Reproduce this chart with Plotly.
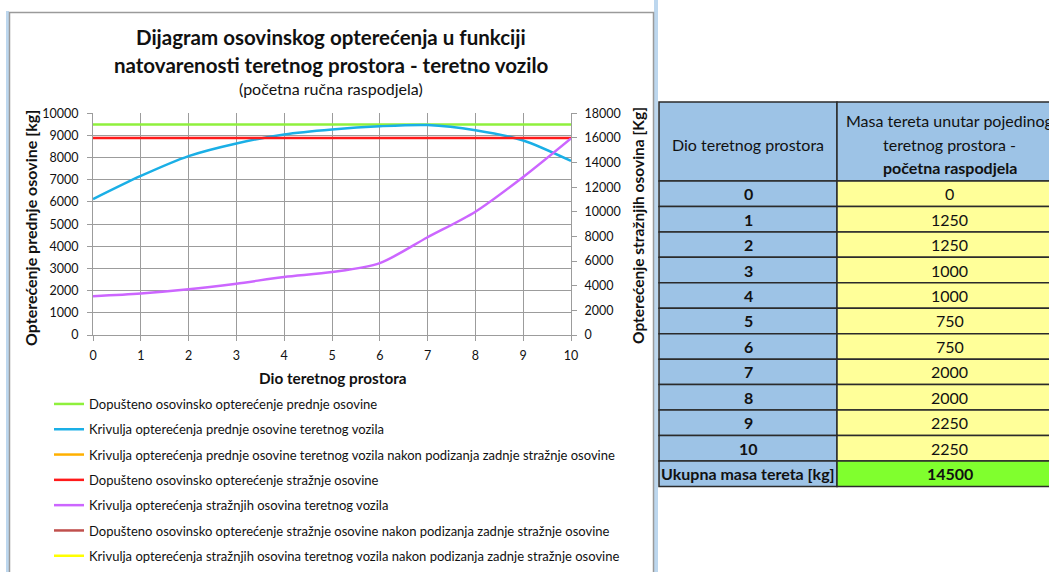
import plotly.graph_objects as go

W, H = 1049, 572

# ---------------- data ----------------
dio = [0, 1, 2, 3, 4, 5, 6, 7, 8, 9, 10]
front_allowed = [9500] * 11
front_load = [6130, 7175, 8070, 8640, 9045, 9270, 9415, 9470, 9240, 8775, 7850]
front_load_lifted = [None] * 11
rear_allowed = [16000] * 11
rear_load = [3150, 3370, 3710, 4170, 4710, 5110, 5840, 7935, 10010, 12830, 15960]
rear_allowed_lifted = [None] * 11
rear_load_lifted = [None] * 11

mass = [0, 1250, 1250, 1000, 1000, 750, 750, 2000, 2000, 2250, 2250]
total_mass = 14500

series_names = [
    "Dopušteno osovinsko opterećenje prednje osovine",
    "Krivulja opterećenja prednje osovine teretnog vozila",
    "Krivulja opterećenja prednje osovine teretnog vozila nakon podizanja zadnje stražnje osovine",
    "Dopušteno osovinsko opterećenje stražnje osovine",
    "Krivulja opterećenja stražnjih osovina teretnog vozila",
    "Dopušteno osovinsko opterećenje stražnje osovine nakon podizanja zadnje stražnje osovine",
    "Krivulja opterećenja stražnjih osovina teretnog vozila nakon podizanja zadnje stražnje osovine",
]
series_colors = ["#8FF03C", "#1AAFE6", "#FFB000", "#FF1A1A", "#CC66FF", "#C0504D", "#FFFF00"]

FONT = "Lato"


def px(x):
    return x / W


def py(y):
    return 1 - y / H


fig = go.Figure()

data_map = [
    (front_allowed, "y"),
    (front_load, "y"),
    (front_load_lifted, "y"),
    (rear_allowed, "y2"),
    (rear_load, "y2"),
    (rear_allowed_lifted, "y2"),
    (rear_load_lifted, "y2"),
]
for i, (ys, ax) in enumerate(data_map):
    fig.add_trace(go.Scatter(
        x=dio, y=ys, mode="lines", name=series_names[i], yaxis=ax,
        line=dict(color=series_colors[i], width=2.5, shape="spline", smoothing=0.8),
        legendgroup="g%d" % i, showlegend=True,
    ))

x0, x1 = 93, 571
y0, y1 = 335, 113.3

grid = "#9C9C9C"
tickfont = dict(size=12.5, family=FONT, color="#111")
fig.update_layout(
    width=W, height=H,
    margin=dict(l=0, r=0, t=0, b=0, autoexpand=False),
    paper_bgcolor="white", plot_bgcolor="white",
    font=dict(family=FONT, color="#111111"),
    xaxis=dict(domain=[px(x0), px(x1)], range=[0, 10], tickmode="linear", dtick=1,
               showgrid=True, gridcolor=grid, gridwidth=1, showline=True, linecolor=grid,
               ticks="outside", ticklen=5, tickcolor=grid, zeroline=False,
               ticklabelstandoff=4, tickfont=tickfont),
    yaxis=dict(domain=[py(y0), py(y1)], range=[0, 10000], tickmode="linear", dtick=1000,
               tickformat="d",
               showgrid=True, gridcolor=grid, gridwidth=1, showline=True, linecolor=grid,
               ticks="outside", ticklen=5, tickcolor=grid, zeroline=False,
               ticklabelstandoff=6, tickfont=tickfont),
    yaxis2=dict(overlaying="y", side="right", range=[0, 18000], tickmode="linear", dtick=2000,
                tickformat="d",
                showgrid=False, showline=True, linecolor=grid, ticks="outside", ticklen=5,
                tickcolor=grid, zeroline=False, ticklabelstandoff=5, tickfont=tickfont),
    legend=dict(x=px(49), y=py(389), xanchor="left", yanchor="top", traceorder="grouped",
                tracegroupgap=5.4, font=dict(size=13, family=FONT, color="#111"),
                bgcolor="rgba(0,0,0,0)", itemwidth=30),
    showlegend=True,
)

shapes = []
# chart frame and light strips
shapes.append(dict(type="rect", xref="paper", yref="paper", x0=px(6), x1=px(9), y0=py(H + 5), y1=py(11),
                   fillcolor="#BDD7EE", line=dict(width=0), layer="below"))
shapes.append(dict(type="rect", xref="paper", yref="paper", x0=px(654), x1=px(658), y0=py(H + 5), y1=py(-5),
                   fillcolor="#BDD7EE", line=dict(width=0), layer="below"))
shapes.append(dict(type="rect", xref="paper", yref="paper", x0=px(9.5), x1=px(653.5), y0=py(H + 5), y1=py(12.5),
                   fillcolor="rgba(0,0,0,0)", line=dict(color="#9A9A9A", width=1.5), layer="below"))

# ---------------- table ----------------
tx0, tx1, tx2 = 659, 837, 1062
hy0, hy1 = 102, 181
row_h = 25.45
blue, yellow, green = "#9DC3E6", "#FFFF99", "#80FF2E"
bord = dict(color="#2B2B2B", width=1.5)
cfont = dict(size=16, family=FONT, color="#111")

shapes.append(dict(type="rect", xref="paper", yref="paper", x0=px(tx0), x1=px(tx1), y0=py(hy1), y1=py(hy0),
                   fillcolor=blue, line=bord))
shapes.append(dict(type="rect", xref="paper", yref="paper", x0=px(tx1), x1=px(tx2), y0=py(hy1), y1=py(hy0),
                   fillcolor=blue, line=bord))
annotations = []
annotations.append(dict(x=px((tx0 + tx1) / 2), y=py(144), xref="paper", yref="paper", showarrow=False,
                        text="Dio teretnog prostora", font=cfont,
                        xanchor="center", yanchor="middle"))
for k, (t, yy) in enumerate([("Masa tereta unutar pojedinog", 120), ("teretnog prostora -", 144),
                             ("<b>početna raspodjela</b>", 167)]):
    annotations.append(dict(x=px((tx1 + tx2) / 2), y=py(yy), xref="paper", yref="paper", showarrow=False,
                            text=t, font=cfont, xanchor="center", yanchor="middle"))

for i, d in enumerate(dio):
    ra = hy1 + i * row_h
    rb = ra + row_h
    shapes.append(dict(type="rect", xref="paper", yref="paper", x0=px(tx0), x1=px(tx1), y0=py(rb), y1=py(ra),
                       fillcolor=blue, line=bord))
    shapes.append(dict(type="rect", xref="paper", yref="paper", x0=px(tx1), x1=px(tx2), y0=py(rb), y1=py(ra),
                       fillcolor=yellow, line=bord))
    annotations.append(dict(x=px((tx0 + tx1) / 2), y=py((ra + rb) / 2), xref="paper", yref="paper",
                            showarrow=False, text="<b>%d</b>" % d,
                            font=cfont, xanchor="center", yanchor="middle"))
    annotations.append(dict(x=px((tx1 + tx2) / 2), y=py((ra + rb) / 2), xref="paper", yref="paper",
                            showarrow=False, text="%d" % mass[i],
                            font=cfont, xanchor="center", yanchor="middle"))

ra = hy1 + len(dio) * row_h
rb = ra + row_h
shapes.append(dict(type="rect", xref="paper", yref="paper", x0=px(tx0), x1=px(tx1), y0=py(rb), y1=py(ra),
                   fillcolor=blue, line=bord))
shapes.append(dict(type="rect", xref="paper", yref="paper", x0=px(tx1), x1=px(tx2), y0=py(rb), y1=py(ra),
                   fillcolor=green, line=bord))
annotations.append(dict(x=px((tx0 + tx1) / 2), y=py((ra + rb) / 2), xref="paper", yref="paper",
                        showarrow=False, text="<b>Ukupna masa tereta [kg]</b>",
                        font=cfont, xanchor="center", yanchor="middle"))
annotations.append(dict(x=px((tx1 + tx2) / 2), y=py((ra + rb) / 2), xref="paper", yref="paper",
                        showarrow=False, text="<b>%d</b>" % total_mass,
                        font=cfont, xanchor="center", yanchor="middle"))

# ---------------- titles ----------------
cx = 331
annotations += [
    dict(x=px(cx), y=py(37), xref="paper", yref="paper", showarrow=False,
         text="<b>Dijagram osovinskog opterećenja u funkciji</b>",
         font=dict(size=20.5, family=FONT, color="#111"), xanchor="center", yanchor="middle"),
    dict(x=px(cx), y=py(65), xref="paper", yref="paper", showarrow=False,
         text="<b>natovarenosti teretnog prostora - teretno vozilo</b>",
         font=dict(size=20.5, family=FONT, color="#111"), xanchor="center", yanchor="middle"),
    dict(x=px(cx), y=py(88), xref="paper", yref="paper", showarrow=False,
         text="(početna ručna raspodjela)",
         font=dict(size=16, family=FONT, color="#111"), xanchor="center", yanchor="middle"),
    dict(x=px(333), y=py(378), xref="paper", yref="paper", showarrow=False,
         text="<b>Dio teretnog prostora</b>",
         font=dict(size=15.3, family=FONT, color="#111"), xanchor="center", yanchor="middle"),
    dict(x=px(31), y=py(228), xref="paper", yref="paper", showarrow=False, textangle=-90,
         text="<b>Opterećenje prednje osovine [kg]</b>",
         font=dict(size=16, family=FONT, color="#111"), xanchor="center", yanchor="middle"),
    dict(x=px(638), y=py(226), xref="paper", yref="paper", showarrow=False, textangle=-90,
         text="<b>Opterećenje stražnjih osovina [Kg]</b>",
         font=dict(size=15.5, family=FONT, color="#111"), xanchor="center", yanchor="middle"),
]

fig.update_layout(shapes=shapes, annotations=annotations)
fig.write_html("out.html", config={"displayModeBar": False},
               post_script="document.body.style.margin='0';")
